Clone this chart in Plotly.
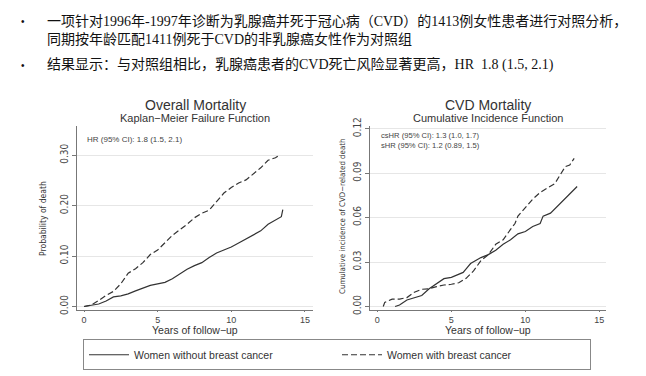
import plotly.graph_objects as go

# ---------------- data ----------------
# Overall mortality (Kaplan-Meier failure)
om_years_without = [0, 0.5, 1, 1.5, 2, 2.5, 3, 3.5, 4, 4.5, 5, 5.5, 6, 6.5, 7, 7.5, 8, 8.5, 9, 9.5,
                    10, 10.5, 11, 11.5, 12, 12.5, 13, 13.4, 13.5]
om_prob_without = [0, 0.002, 0.005, 0.011, 0.019, 0.021, 0.025, 0.031, 0.037, 0.042, 0.045, 0.048,
                   0.055, 0.064, 0.074, 0.081, 0.087, 0.097, 0.106, 0.112, 0.118, 0.126, 0.134,
                   0.141, 0.150, 0.163, 0.171, 0.178, 0.192]
om_years_with = [0, 0.5, 1, 1.5, 2, 2.5, 3, 3.5, 4, 4.5, 5, 5.5, 6, 6.5, 7, 7.5, 8, 8.5, 9, 9.5,
                 10, 10.5, 11, 11.5, 12, 12.5, 13, 13.3]
om_prob_with = [0, 0.003, 0.012, 0.022, 0.030, 0.045, 0.066, 0.075, 0.087, 0.103, 0.112, 0.127,
                0.141, 0.152, 0.163, 0.176, 0.185, 0.191, 0.208, 0.225, 0.236, 0.245, 0.251,
                0.263, 0.275, 0.290, 0.295, 0.301]

# CVD mortality (cumulative incidence)
cvd_years_without = [1.2, 1.5, 2, 2.5, 3, 3.5, 4, 4.5, 5, 5.5, 5.8, 6, 6.3, 7, 7.5, 8, 8.5, 9, 9.5,
                     10, 10.5, 11, 11.2, 11.7, 12, 12.5, 13, 13.5]
cvd_inc_without = [0, 0.001, 0.0044, 0.0057, 0.0074, 0.012, 0.0155, 0.0188, 0.0197, 0.0215, 0.023,
                   0.0254, 0.029, 0.033, 0.035, 0.038, 0.042, 0.045, 0.049, 0.0506, 0.054, 0.056,
                   0.061, 0.063, 0.066, 0.071, 0.076, 0.081]
cvd_years_with = [0.4, 0.5, 1, 1.5, 2, 2.5, 3, 3.5, 4, 4.5, 5, 5.5, 6, 6.5, 7, 7.5, 8, 8.5, 9, 9.3,
                  9.5, 10, 10.5, 11, 11.5, 12, 12.3, 12.7, 13, 13.3]
cvd_inc_with = [0, 0.0028, 0.005, 0.005, 0.006, 0.0096, 0.0116, 0.012, 0.0134, 0.0145, 0.015, 0.016,
                0.019, 0.024, 0.031, 0.035, 0.042, 0.045, 0.052, 0.056, 0.061, 0.067, 0.0725,
                0.077, 0.080, 0.083, 0.088, 0.0944, 0.0955, 0.100]

x_ticks = [0, 5, 10, 15]
om_y_ticks = [0.0, 0.1, 0.2, 0.3]
om_y_labels = ["0.00", "0.10", "0.20", "0.30"]
cvd_y_ticks = [0.0, 0.03, 0.06, 0.09, 0.12]
cvd_y_labels = ["0.00", "0.03", "0.06", "0.09", "0.12"]

series_names = ["Women without breast cancer", "Women with breast cancer"]

header_lines = [
    "一项针对1996年-1997年诊断为乳腺癌并死于冠心病（CVD）的1413例女性患者进行对照分析，",
    "同期按年龄匹配1411例死于CVD的非乳腺癌女性作为对照组",
    "结果显示：与对照组相比，乳腺癌患者的CVD死亡风险显著更高，HR  1.8 (1.5, 2.1)",
]

# ---------------- figure ----------------
W, H = 646, 376
LINE_COL = "#333333"
SANS = "Liberation Sans, Arial, sans-serif"
NARROW = "Liberation Sans Narrow, Arial Narrow, DejaVu Sans Condensed, Liberation Sans, sans-serif"

fig = go.Figure()

fig.add_trace(go.Scatter(x=om_years_without, y=om_prob_without, mode="lines",
                         line=dict(color=LINE_COL, width=1.2), name=series_names[0],
                         xaxis="x", yaxis="y", showlegend=True))
fig.add_trace(go.Scatter(x=om_years_with, y=om_prob_with, mode="lines",
                         line=dict(color=LINE_COL, width=1.2, dash="6px,3px"), name=series_names[1],
                         xaxis="x", yaxis="y", showlegend=True))
fig.add_trace(go.Scatter(x=cvd_years_without, y=cvd_inc_without, mode="lines",
                         line=dict(color=LINE_COL, width=1.2), name=series_names[0],
                         xaxis="x2", yaxis="y2", showlegend=False))
fig.add_trace(go.Scatter(x=cvd_years_with, y=cvd_inc_with, mode="lines",
                         line=dict(color=LINE_COL, width=1.2, dash="6px,3px"), name=series_names[1],
                         xaxis="x2", yaxis="y2", showlegend=False))

def px(x):
    return x / W

def py(y):
    return 1 - y / H

axis_common = dict(showline=True, linecolor="#777", linewidth=1, zeroline=False,
                   ticks="outside", tickcolor="#777")

xfont = dict(family=SANS, size=9, color="#444")
yfont = dict(family=NARROW, size=10, color="#444")

fig.update_layout(
    width=W, height=H,
    margin=dict(l=0, r=0, t=0, b=0),
    paper_bgcolor="white", plot_bgcolor="white",
    xaxis=dict(domain=[px(77), px(313)], range=[-0.475, 15.55], anchor="y",
               tickvals=x_ticks, showgrid=False, ticklen=1, tickfont=xfont, **axis_common),
    yaxis=dict(domain=[py(313), py(122)], range=[-0.0076, 0.357], anchor="x",
               tickvals=om_y_ticks, ticktext=om_y_labels, tickangle=-90, ticklen=4, tickfont=yfont,
               showgrid=True, gridcolor="#e6e6e6", gridwidth=1, **axis_common),
    xaxis2=dict(domain=[px(369.5), px(606)], range=[-0.53, 15.45], anchor="y2",
                tickvals=x_ticks, showgrid=False, ticklen=1, tickfont=xfont, **axis_common),
    yaxis2=dict(domain=[py(313), py(122)], range=[-0.0026, 0.1215], anchor="x2",
                tickvals=cvd_y_ticks, ticktext=cvd_y_labels, tickangle=-90, ticklen=4, tickfont=yfont,
                showgrid=True, gridcolor="#e6e6e6", gridwidth=1, **axis_common),
    legend=dict(orientation="h", x=px(83), xanchor="left", y=py(343), yanchor="top",
                bordercolor="#888", borderwidth=1, bgcolor="white",
                font=dict(family=SANS, size=10.5, color="#333"),
                entrywidth=198, entrywidthmode="pixels", itemwidth=40),
)

ann = []
# header text
HEAD_FONT = "Liberation Serif, Noto Sans CJK SC, serif"
for txt, yy in zip(header_lines, [12, 31, 58]):
    ann.append(dict(text=txt, x=px(45), y=py(yy), xref="paper", yref="paper",
                    xanchor="left", yanchor="middle", showarrow=False,
                    font=dict(family=HEAD_FONT, size=14, color="#111")))
for yy in [13, 59]:
    ann.append(dict(text="•", x=px(23), y=py(yy), xref="paper", yref="paper",
                    xanchor="center", yanchor="middle", showarrow=False,
                    font=dict(family=SANS, size=10, color="#111")))

# panel titles
for cx, title, sub in [(195, "Overall Mortality", "Kaplan\u2212Meier Failure Function"),
                       (488, "CVD Mortality", "Cumulative Incidence Function")]:
    ann.append(dict(text=title, x=px(cx), y=py(100), xref="paper", yref="paper",
                    xanchor="center", yanchor="middle", showarrow=False,
                    font=dict(family=SANS, size=14, color="#333")))
    ann.append(dict(text=sub, x=px(cx), y=py(113), xref="paper", yref="paper",
                    xanchor="center", yanchor="middle", showarrow=False,
                    font=dict(family=SANS, size=11, color="#333")))
    ann.append(dict(text="Years of follow\u2212up", x=px(cx), y=py(333.5), xref="paper", yref="paper",
                    xanchor="center", yanchor="middle", showarrow=False,
                    font=dict(family=SANS, size=10.5, color="#333")))

# y-axis titles
ann.append(dict(text="Probability of death", x=px(43), y=py(218), xref="paper", yref="paper",
                xanchor="center", yanchor="middle", showarrow=False, textangle=-90,
                font=dict(family=NARROW, size=8.5, color="#333")))
ann.append(dict(text="Cumulative incidence of CVD\u2212related death", x=px(343), y=py(216),
                xref="paper", yref="paper", xanchor="center", yanchor="middle",
                showarrow=False, textangle=-90,
                font=dict(family=NARROW, size=7.8, color="#333")))

# HR annotations
ann.append(dict(text="HR (95% CI): 1.8 (1.5, 2.1)", x=px(85), y=py(135.5), xref="paper", yref="paper",
                xanchor="left", yanchor="middle", showarrow=False,
                font=dict(family=SANS, size=8, color="#444")))
ann.append(dict(text="csHR (95% CI): 1.3 (1.0, 1.7)<br>sHR (95% CI): 1.2 (0.89, 1.5)",
                x=px(379), y=py(137), xref="paper", yref="paper", align="left",
                xanchor="left", yanchor="middle", showarrow=False,
                font=dict(family=SANS, size=7.6, color="#444")))

fig.update_layout(annotations=ann)

fig.write_html("out.html", config={"displayModeBar": False},
               post_script="document.body.style.margin='0';")
